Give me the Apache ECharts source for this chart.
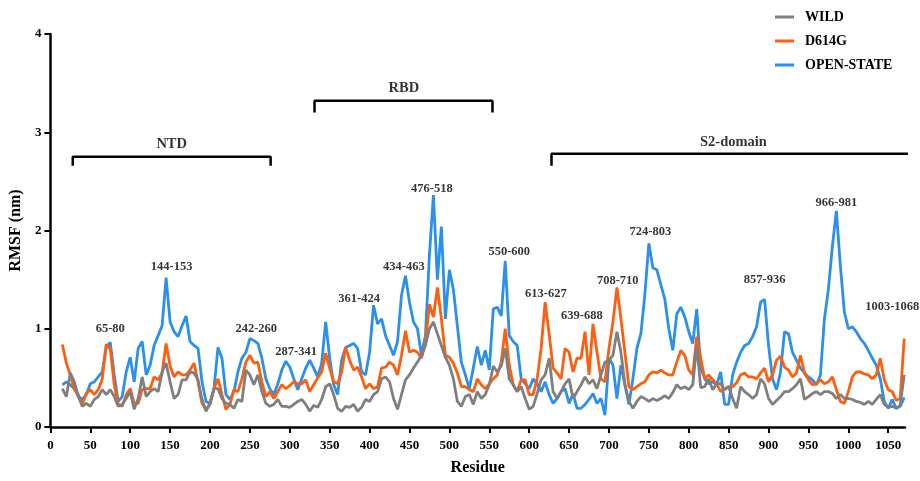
<!DOCTYPE html>
<html>
<head>
<meta charset="utf-8">
<script src="https://cdn.jsdelivr.net/npm/echarts@6/dist/echarts.min.js"></script>
<style>
html,body{margin:0;padding:0;background:#fff;}
#chart{width:920px;height:481px;}
</style>
</head>
<body>
<div id="chart"></div>
<script>
// Residue sampling grid (every 5 residues from 15 to 1070)
const residues = Array.from({length: 212}, (_, i) => 15 + 5 * i);

const wild = [
0.39,0.31,0.55,0.46,0.31,0.21,0.24,0.21,0.28,0.31,
0.38,0.33,0.38,0.31,0.21,0.23,0.29,0.36,0.18,0.29,
0.51,0.31,0.36,0.39,0.36,0.56,0.65,0.46,0.29,0.33,
0.48,0.48,0.56,0.55,0.48,0.28,0.16,0.24,0.39,0.39,
0.29,0.24,0.23,0.19,0.28,0.26,0.58,0.53,0.43,0.53,
0.36,0.24,0.21,0.23,0.28,0.21,0.21,0.20,0.23,0.26,
0.28,0.23,0.16,0.22,0.20,0.28,0.41,0.44,0.33,0.19,
0.16,0.21,0.20,0.23,0.16,0.20,0.28,0.26,0.33,0.36,
0.49,0.51,0.46,0.29,0.18,0.33,0.48,0.53,0.60,0.66,
0.73,0.83,1.00,1.07,0.95,0.83,0.71,0.63,0.49,0.26,
0.21,0.31,0.33,0.23,0.36,0.29,0.33,0.43,0.62,0.56,
0.62,0.80,0.49,0.43,0.36,0.41,0.29,0.18,0.21,0.34,
0.48,0.53,0.70,0.36,0.29,0.36,0.44,0.49,0.29,0.36,
0.43,0.51,0.44,0.48,0.39,0.53,0.66,0.68,0.73,0.97,
0.76,0.43,0.26,0.19,0.26,0.31,0.29,0.26,0.29,0.27,
0.29,0.32,0.29,0.35,0.43,0.39,0.41,0.38,0.43,0.83,
0.40,0.41,0.49,0.38,0.44,0.44,0.38,0.41,0.29,0.19,
0.41,0.36,0.33,0.29,0.33,0.49,0.44,0.29,0.23,0.27,
0.31,0.36,0.36,0.39,0.43,0.49,0.28,0.31,0.34,0.36,
0.33,0.36,0.36,0.34,0.29,0.33,0.29,0.29,0.28,0.26,
0.25,0.23,0.26,0.23,0.28,0.33,0.23,0.20,0.21,0.19,
0.22,0.53];

const d614g = [
0.84,0.65,0.53,0.38,0.33,0.23,0.34,0.38,0.33,0.38,
0.49,0.84,0.80,0.43,0.23,0.21,0.33,0.39,0.24,0.24,
0.38,0.39,0.39,0.51,0.48,0.55,0.85,0.62,0.51,0.56,
0.53,0.53,0.58,0.65,0.46,0.24,0.18,0.23,0.39,0.49,
0.33,0.18,0.23,0.38,0.36,0.49,0.66,0.73,0.65,0.66,
0.46,0.31,0.36,0.29,0.36,0.43,0.39,0.42,0.46,0.44,
0.44,0.48,0.36,0.43,0.50,0.56,0.75,0.60,0.46,0.44,
0.56,0.81,0.68,0.58,0.61,0.51,0.39,0.44,0.39,0.41,
0.60,0.61,0.66,0.63,0.53,0.73,0.98,0.76,0.78,0.76,
0.70,0.85,1.25,1.12,1.42,1.10,0.73,0.71,0.65,0.55,
0.41,0.41,0.38,0.36,0.49,0.43,0.39,0.44,0.49,0.53,
0.66,1.00,0.63,0.43,0.36,0.48,0.48,0.33,0.33,0.49,
0.80,1.27,0.95,0.60,0.55,0.49,0.80,0.76,0.56,0.70,
0.70,0.97,0.53,1.05,0.76,0.49,0.46,0.80,1.07,1.42,
1.10,0.76,0.41,0.38,0.41,0.44,0.46,0.53,0.56,0.55,
0.58,0.55,0.53,0.53,0.66,0.78,0.73,0.58,0.53,0.92,
0.70,0.49,0.53,0.48,0.44,0.36,0.39,0.41,0.41,0.45,
0.53,0.55,0.51,0.51,0.49,0.55,0.60,0.46,0.53,0.68,
0.72,0.61,0.58,0.51,0.55,0.73,0.55,0.48,0.43,0.44,
0.48,0.44,0.46,0.51,0.38,0.26,0.24,0.36,0.51,0.56,
0.56,0.54,0.53,0.49,0.53,0.70,0.48,0.38,0.36,0.27,
0.29,0.90];

const openState = [
0.43,0.46,0.43,0.39,0.31,0.28,0.33,0.44,0.46,0.51,
0.56,0.82,0.86,0.53,0.26,0.31,0.56,0.71,0.46,0.80,
0.87,0.53,0.63,0.83,0.93,1.03,1.52,1.07,0.97,0.92,
1.03,1.13,0.87,0.83,0.80,0.46,0.26,0.24,0.39,0.81,
0.70,0.33,0.28,0.36,0.56,0.70,0.76,0.90,0.88,0.85,
0.70,0.49,0.39,0.33,0.44,0.58,0.67,0.61,0.49,0.38,
0.49,0.60,0.68,0.60,0.51,0.65,1.07,0.70,0.43,0.33,
0.68,0.81,0.83,0.85,0.80,0.56,0.53,0.76,1.24,1.05,
1.10,0.93,0.83,0.73,0.87,1.34,1.54,1.27,1.07,1.00,
0.73,0.93,1.75,2.36,1.50,2.04,1.10,1.60,1.40,1.03,
0.66,0.53,0.39,0.60,0.82,0.63,0.78,0.58,1.20,1.22,
1.13,1.69,0.93,0.87,0.83,0.49,0.44,0.39,0.49,0.44,
0.36,0.46,0.33,0.24,0.29,0.36,0.39,0.24,0.34,0.19,
0.19,0.23,0.28,0.34,0.24,0.29,0.12,0.70,0.63,0.29,
0.63,0.43,0.23,0.49,0.80,0.95,1.35,1.87,1.62,1.60,
1.45,1.30,1.00,0.78,1.15,1.22,1.12,0.97,0.85,1.20,
0.60,0.49,0.44,0.46,0.43,0.56,0.23,0.23,0.53,0.66,
0.76,0.83,0.85,0.92,1.02,1.27,1.30,0.83,0.49,0.38,
0.56,0.97,0.95,0.76,0.68,0.60,0.55,0.51,0.48,0.43,
0.53,1.10,1.40,1.84,2.20,1.64,1.17,1.00,1.02,0.97,
0.90,0.85,0.78,0.70,0.63,0.49,0.26,0.19,0.28,0.19,
0.21,0.30];

const seriesNames = ['WILD', 'D614G', 'OPEN-STATE'];
const xTicks = [0,50,100,150,200,250,300,350,400,450,500,550,600,650,700,750,800,850,900,950,1000,1050];
const yTicks = [0,1,2,3,4];

// Peak annotations (residue position, RMSF level)
const peakLabels = ['65-80','144-153','242-260','287-341','361-424','434-463','476-518','550-600','613-627','639-688','708-710','724-803','857-936','966-981','1003-1068'];
const peakX = [75,152,258,308,387,443,478,575,621,666,711,752,895,985,1055];
const peakY = [1.00,1.63,1.00,0.77,1.31,1.63,2.42,1.78,1.36,1.13,1.49,1.99,1.50,2.28,1.22];

// Domains: name, start, end residue, bracket level
const domainNames = ['NTD','RBD','S2-domain'];
const domainStart = [28,331,628];
const domainEnd = [276,554,1087];
const domainLevel = [2.75,3.32,2.78];
const domainTick = [0.09,0.12,0.12];
const domainLabelX = [152,443,856];
const domainLabelY = [2.88,3.45,2.90];

const FONT = 'Liberation Serif';
const colors = {'WILD':'#7f7f7f','D614G':'#ff5e0e','OPEN-STATE':'#2b8fec'};

const toPairs = arr => residues.map((r, i) => [r, arr[i]]);

const series = [];
const lineSeries = [
  {name:'OPEN-STATE', data: openState},
  {name:'D614G', data: d614g},
  {name:'WILD', data: wild}
];
lineSeries.forEach(s => {
  series.push({
    name: s.name, type: 'line', data: toPairs(s.data),
    showSymbol: false, symbol: 'none',
    lineStyle: {width: 2.8, color: colors[s.name]},
    itemStyle: {color: colors[s.name]},
    silent: true
  });
});

domainNames.forEach((d, i) => {
  const lo = domainLevel[i] - domainTick[i];
  series.push({
    type: 'line', clip: false, silent: true, symbol: 'none', showSymbol: false,
    data: [[domainStart[i], lo], [domainStart[i], domainLevel[i]], [domainEnd[i], domainLevel[i]], [domainEnd[i], lo]],
    lineStyle: {width: 2.5, color: '#000'}, z: 5
  });
});

series.push({
  type: 'scatter', symbolSize: 0, silent: true, clip: false,
  data: domainNames.map((n, i) => ({value: [domainLabelX[i], domainLabelY[i]], name: n})),
  label: {show: true, position: 'inside', formatter: p => p.name,
    fontFamily: FONT, fontWeight: 'bold', fontSize: 14.5, color: '#000'}
});

series.push({
  type: 'scatter', symbolSize: 0, silent: true, clip: false,
  data: peakLabels.map((n, i) => ({value: [peakX[i], peakY[i]], name: n})),
  label: {show: true, position: 'inside', formatter: p => p.name,
    fontFamily: FONT, fontWeight: 'bold', fontSize: 12.5, color: '#000'}
});

const chart = echarts.init(document.getElementById('chart'), null, {renderer: 'canvas'});
chart.setOption({
  animation: false,
  backgroundColor: '#fff',
  grid: {left: 48, right: 15, top: 34, bottom: 52, containLabel: false},
  legend: {
    data: seriesNames, orient: 'vertical', left: 770, top: 5,
    itemWidth: 19, itemHeight: 3, itemGap: 10, icon: 'rect',
    textStyle: {fontFamily: FONT, fontWeight: 'bold', fontSize: 14, color: '#000', padding: [0,0,0,6]}
  },
  xAxis: {
    type: 'value', min: 0, max: 1071,
    name: 'Residue', nameLocation: 'middle', nameGap: 33,
    nameTextStyle: {fontFamily: FONT, fontWeight: 'bold', fontSize: 16, color: '#000'},
    axisLine: {show: true, lineStyle: {color: '#000', width: 2.5}},
    axisTick: {show: true, length: 6, lineStyle: {color: '#000', width: 2}, customValues: xTicks},
    axisLabel: {fontFamily: FONT, fontWeight: 'bold', fontSize: 13, color: '#000', margin: 12,
      customValues: xTicks, formatter: v => String(v)},
    splitLine: {show: false}
  },
  yAxis: {
    type: 'value', min: 0, max: 4, interval: 1,
    name: 'RMSF (nm)', nameLocation: 'middle', nameRotate: 90, nameGap: 17,
    nameTextStyle: {fontFamily: FONT, fontWeight: 'bold', fontSize: 16, color: '#000'},
    axisLine: {show: true, lineStyle: {color: '#000', width: 2.5}},
    axisTick: {show: true, length: 6, lineStyle: {color: '#000', width: 2}, customValues: yTicks},
    axisLabel: {fontFamily: FONT, fontWeight: 'bold', fontSize: 13, color: '#000', margin: 9,
      customValues: yTicks, formatter: v => String(v)},
    splitLine: {show: false}
  },
  series: series
});
</script>
</body>
</html>
